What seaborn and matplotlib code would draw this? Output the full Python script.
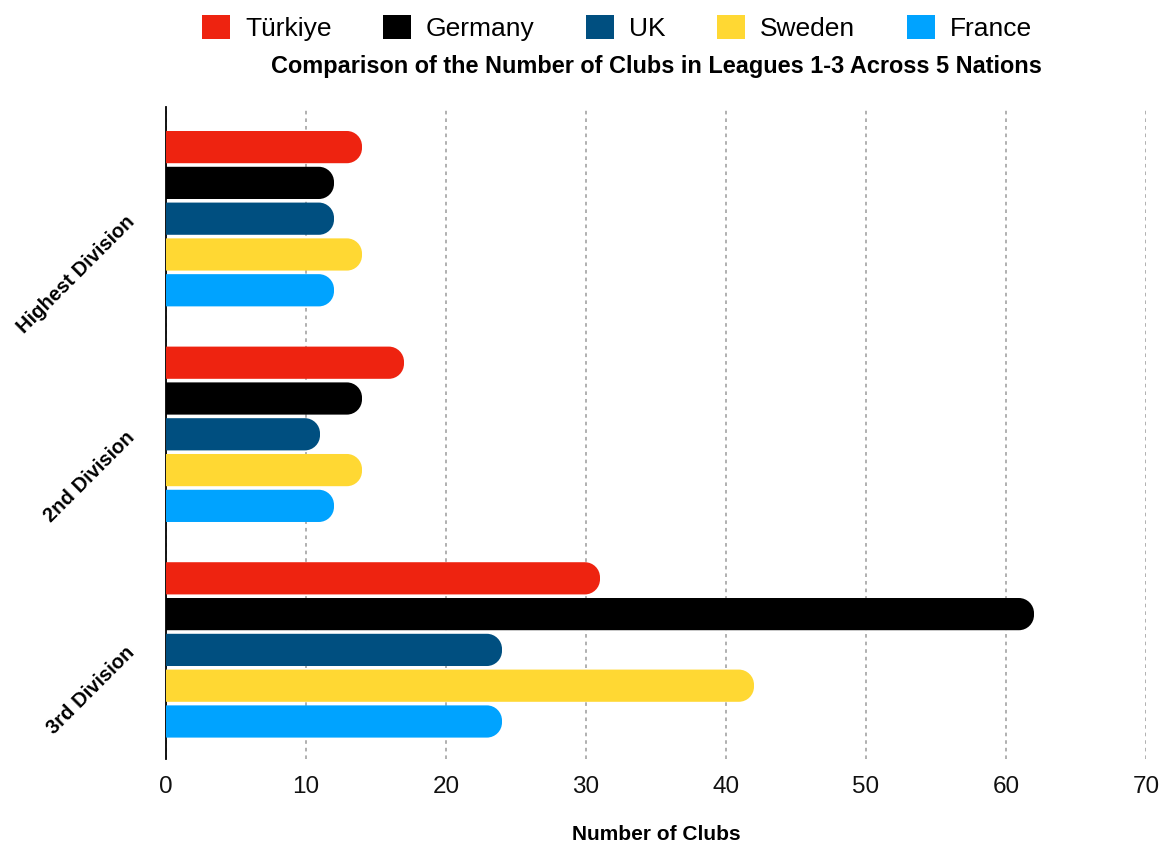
import matplotlib
matplotlib.use("Agg")
import matplotlib.pyplot as plt
import seaborn as sns
import pandas as pd
from matplotlib.path import Path
from matplotlib.patches import PathPatch, Patch

divisions = ["Highest Division", "2nd Division", "3rd Division"]
countries = ["Türkiye", "Germany", "UK", "Sweden", "France"]
turkiye = [14, 17, 31]
germany = [12, 14, 62]
uk = [12, 11, 24]
sweden = [14, 14, 42]
france = [12, 12, 24]
colors = ["#EE2310", "#000000", "#004F80", "#FFD833", "#00A3FF"]
xticks = [0, 10, 20, 30, 40, 50, 60, 70]

series = [turkiye, germany, uk, sweden, france]
rows = []
for c, vals in zip(countries, series):
    for d, v in zip(divisions, vals):
        rows.append({"Division": d, "Country": c, "Clubs": v})
df = pd.DataFrame(rows)

sns.set_theme(style="white")
plt.rcParams["font.family"] = ["Liberation Sans", "DejaVu Sans"]
for key in ["text.color", "axes.labelcolor", "xtick.color", "ytick.color"]:
    plt.rcParams[key] = "black"

fig = plt.figure(figsize=(11.72, 8.52), dpi=100)
W, H = 1172, 852
left, right, top, bottom = 166, 1146, 107, 759
ax = fig.add_axes([left / W, 1 - bottom / H, (right - left) / W, (bottom - top) / H])

sns.barplot(data=df, y="Division", x="Clubs", hue="Country", order=divisions,
            hue_order=countries, palette=colors, saturation=1, width=0.83, gap=0.1,
            orient="h", legend=False, ax=ax)
ax.set_xlim(0, 70)
ax.set_ylim(2.506, -0.518)

# rounded right ends
px_x = (ax.transData.transform((1, 0))[0] - ax.transData.transform((0, 0))[0])
px_y = abs(ax.transData.transform((0, 1))[1] - ax.transData.transform((0, 0))[1])
k = 0.5523
for p in list(ax.patches):
    x0, y0, w, h = p.get_x(), p.get_y(), p.get_width(), p.get_height()
    if w <= 0:
        continue
    fc = p.get_facecolor()
    y1 = y0 + h
    ya, yb = min(y0, y1), max(y0, y1)
    hp = (yb - ya) * px_y
    r = 0.47 * hp
    rx, ry = r / px_x, r / px_y
    x1 = x0 + w
    verts = [(x0, ya), (x1 - rx, ya),
             (x1 - rx + k * rx, ya), (x1, ya + ry - k * ry), (x1, ya + ry),
             (x1, yb - ry),
             (x1, yb - ry + k * ry), (x1 - rx + k * rx, yb), (x1 - rx, yb),
             (x0, yb), (x0, ya)]
    codes = [Path.MOVETO, Path.LINETO,
             Path.CURVE4, Path.CURVE4, Path.CURVE4,
             Path.LINETO,
             Path.CURVE4, Path.CURVE4, Path.CURVE4,
             Path.LINETO, Path.CLOSEPOLY]
    ax.add_patch(PathPatch(Path(verts, codes), facecolor=fc, edgecolor="none", zorder=3))
    p.remove()

ax.set_xticks(xticks)
ax.set_xticklabels([str(t) for t in xticks])
ax.xaxis.grid(True, linestyle=(0, (2.0, 2.2)), color="#aaaaaa", linewidth=1.3)
ax.yaxis.grid(False)
ax.set_axisbelow(True)
for s in ["top", "right", "bottom"]:
    ax.spines[s].set_visible(False)
ax.spines["left"].set_color("black")
ax.spines["left"].set_linewidth(1.3)
ax.tick_params(axis="both", length=0)
ax.tick_params(axis="x", labelsize=17.5, pad=12, labelcolor="#111111")
ax.tick_params(axis="y", pad=25)
for lab in ax.get_yticklabels():
    lab.set_rotation(45)
    lab.set_rotation_mode("anchor")
    lab.set_ha("right")
    lab.set_va("center")
    lab.set_fontweight("bold")
    lab.set_fontsize(14.5)
ax.set_ylabel("")
ax.set_xlabel("Number of Clubs", fontsize=15, fontweight="bold", labelpad=20)

fig.text(656 / W, 1 - 66 / H, "Comparison of the Number of Clubs in Leagues 1-3 Across 5 Nations",
         ha="center", va="center", fontsize=16.9, fontweight="bold")

handles = [Patch(facecolor=c, edgecolor="none", label=n) for c, n in zip(colors, countries)]
fig.legend(handles=handles, loc="center", bbox_to_anchor=(617 / W, 1 - 28 / H), ncol=5,
           frameon=False, fontsize=19, handlelength=1.05, handleheight=1.05,
           handletextpad=0.58, columnspacing=1.95)

fig.savefig("out.png", dpi=100)
